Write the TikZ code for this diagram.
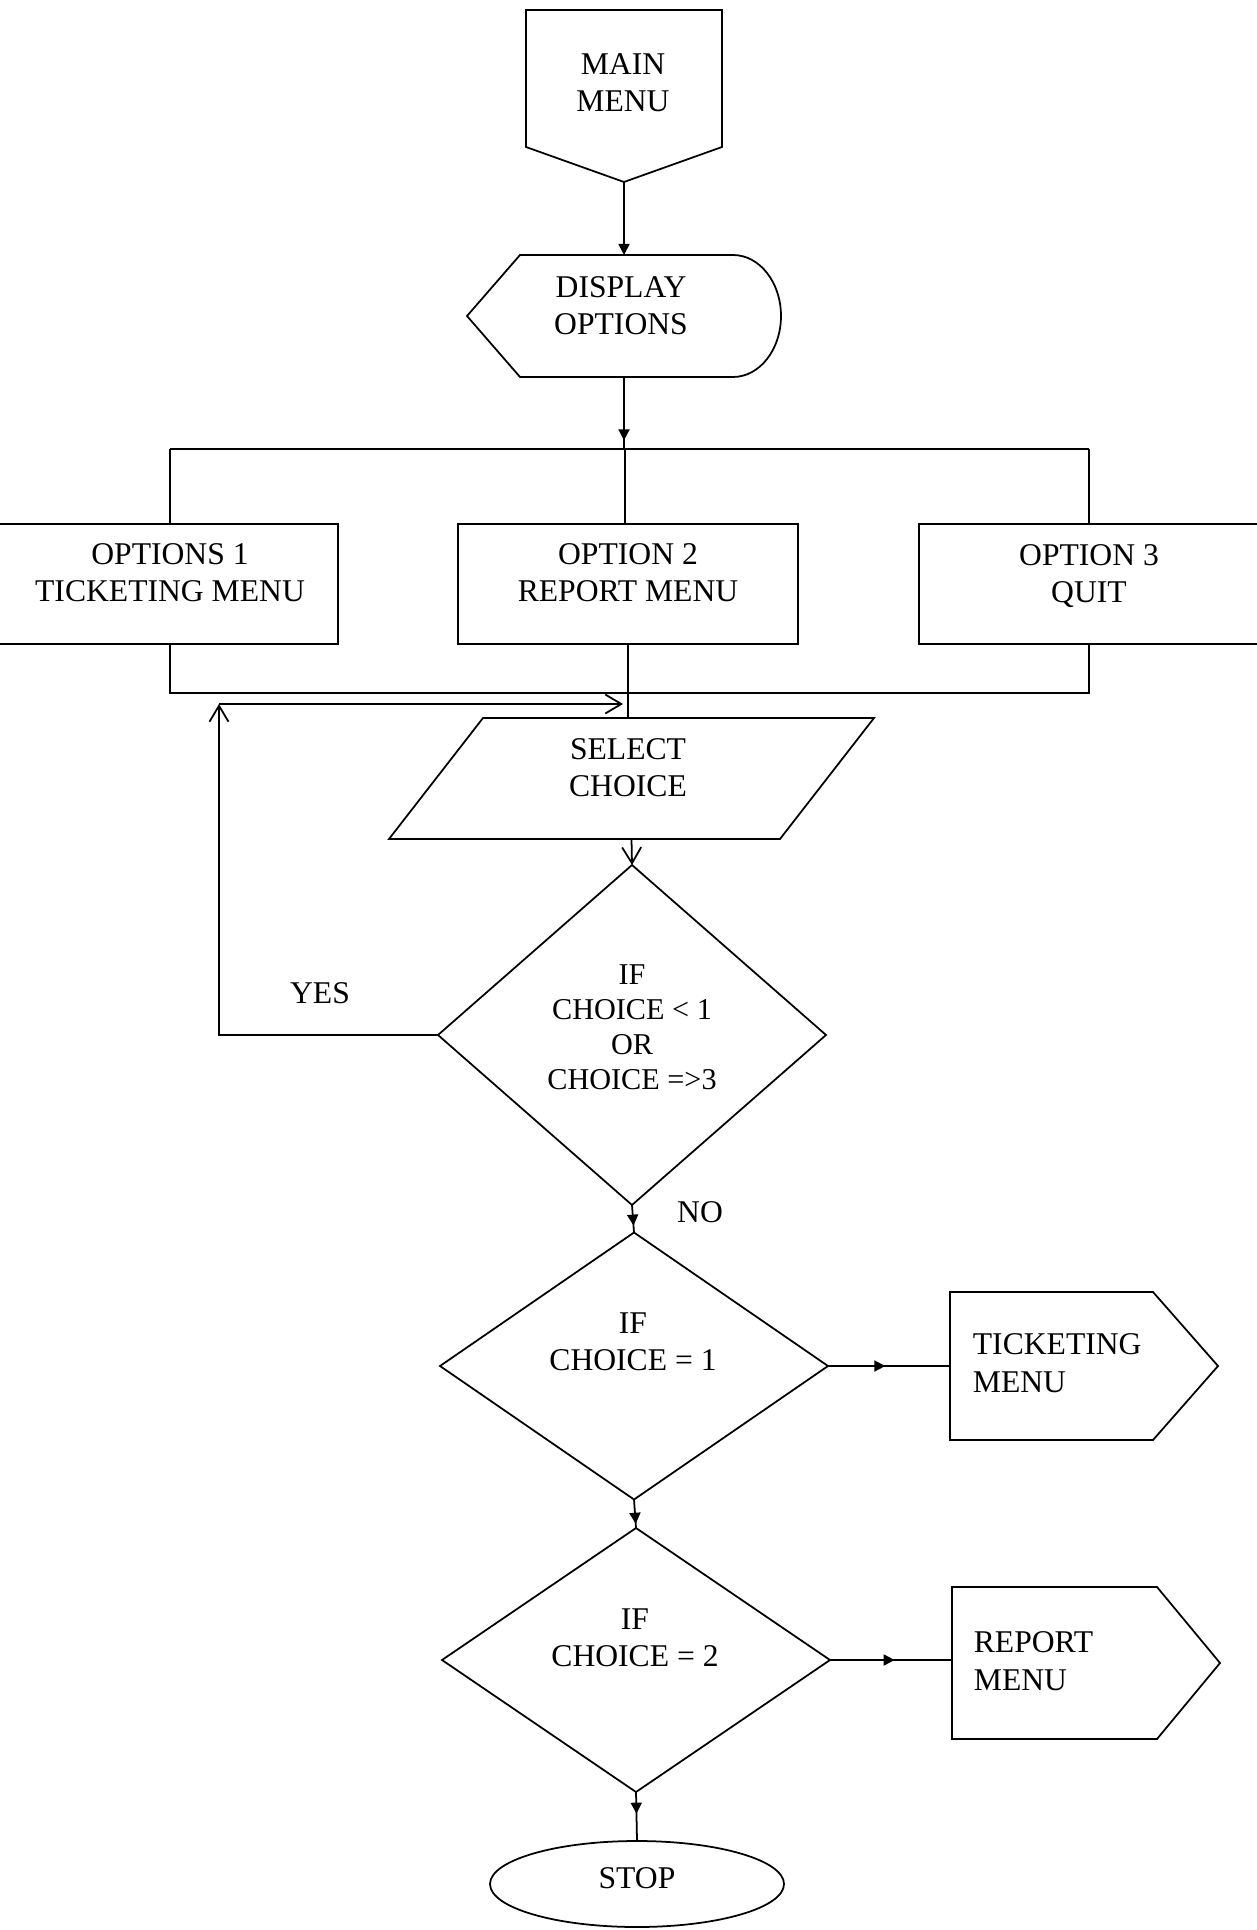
\documentclass[tikz,border=0pt]{standalone}
\usepackage{fontspec}
\setmainfont{Liberation Serif}
\usetikzlibrary{arrows.meta,decorations.markings,shapes.geometric}
\begin{document}
\begin{tikzpicture}[x=0.1mm,y=-0.1mm,line width=0.5pt,
  txt/.style={font=\fontsize{9}{10.5}\selectfont,align=center,inner sep=0pt},
  ltxt/.style={font=\fontsize{9}{10.8}\selectfont,align=left,inner sep=0pt,anchor=west},
  dtxt/.style={font=\fontsize{8.6}{10}\selectfont,align=center,inner sep=0pt},
  blank/.style={draw=none,inner sep=0pt,outer sep=0pt,rectangle},
  optbox/.style={draw,inner sep=0pt,outer sep=0pt,minimum width=34mm,minimum height=12mm},
  decision/.style={draw,diamond,inner sep=0pt,outer sep=0pt,minimum width=38.8mm},
  filltip/.style={-{Triangle[length=1.1mm,width=1.1mm]}},
  opentip/.style={-{Straight Barb[length=1.6mm,width=1.9mm]}},
  midarr/.style={postaction={decorate},decoration={markings,
     mark=at position #1 with {\arrow{Triangle[length=1.1mm,width=1.1mm]}}}}
]
\useasboundingbox (0,0) rectangle (1256,1930);

% MAIN MENU (off-page connector)
\node[blank,minimum width=19.6mm,minimum height=17.2mm] (mm) at (624,96) {};
\draw (mm.north west) -- (mm.north east) -- ([yshift=-13.7mm]mm.north east)
      -- (mm.south) -- ([yshift=-13.7mm]mm.north west) -- cycle;
\node[txt] (mmt) at (623,83) {MAIN\\MENU};

% DISPLAY OPTIONS
\node[blank,minimum width=31.4mm,minimum height=12.2mm] (dp) at (624,316) {};
\draw ([xshift=5.3mm]dp.north west) -- ([xshift=-4.8mm]dp.north east)
      arc[start angle=90,end angle=-90,x radius=4.8mm,y radius=6.1mm]
      -- ([xshift=5.3mm]dp.south west) -- (dp.west) -- cycle;
\node[txt] (dpt) at (621,306) {DISPLAY\\OPTIONS};

\draw[filltip] (mm.south) -- (dp.north);

% option boxes
\coordinate (b1) at (170,449);
\coordinate (b2) at (625,449);
\coordinate (b3) at (1089,449);
\node[optbox] (o1) at (168,584) {};
\node[optbox] (o2) at (628,584) {};
\node[optbox] (o3) at (1089,584) {};
\node[txt] (o1t) at (170,573) {OPTIONS 1\\TICKETING MENU};
\node[txt] (o2t) at (628,573) {OPTION 2\\REPORT MENU};
\node[txt] (o3t) at (1089,576) {OPTION 3\\QUIT};

\draw[midarr=0.88] (dp.south) -- (dp.south |- b2);
\draw (b1) -- (b3);
\draw (b1) -- (b1 |- o1.north);
\draw (b2) -- (b2 |- o2.north);
\draw (b3) -- (o3.north);

\coordinate (c1) at (170,693);
\coordinate (c3) at (1089,693);
\draw (c1 |- o1.south) -- (c1) -- (c3) -- (o3.south);

% SELECT CHOICE parallelogram
\node[blank,minimum width=48.5mm,minimum height=12.1mm] (sc) at (631.5,778.5) {};
\draw ([xshift=9.4mm]sc.north west) -- (sc.north east)
      -- ([xshift=-9.4mm]sc.south east) -- (sc.south west) -- cycle;
\node[txt] (sct) at (628,768) {SELECT\\CHOICE};
\draw (o2.south) -- (o2.south |- sc.north);

% decision 1
\node[decision,minimum height=34mm] (d1) at (632,1035) {};
\node[dtxt] (d1t) at (632,1027) {IF\\CHOICE < 1\\OR\\CHOICE =>3};
\draw[opentip] (sc.south) -- (d1.north);

% loop back
\coordinate (lc) at (219,704);
\coordinate (le) at (623,704);
\draw[opentip] (d1.west) -| (lc);
\draw[opentip] (lc) -- (le);
\node[txt] (yes) at (320,993) {YES};
\node[txt] (no) at (700,1212) {NO};

% decision 2
\node[decision,minimum height=26.7mm] (d2) at (634,1366) {};
\node[txt] (d2t) at (633,1342) {IF\\CHOICE = 1};
\draw[midarr=0.75] (d1.south) -- (d2.north);

% ticketing menu
\node[blank,minimum width=26.8mm,minimum height=14.8mm] (tm) at (1084,1366) {};
\draw (tm.north west) -- ([xshift=-6.5mm]tm.north east) -- (tm.east)
      -- ([xshift=-6.5mm]tm.south east) -- (tm.south west) -- cycle;
\node[ltxt] (tmt) at (972,1363) {TICKETING\\MENU};
\draw[midarr=0.47] (d2.east) -- (tm.west);

% decision 3
\node[decision,minimum height=26.4mm] (d3) at (636,1660) {};
\node[txt] (d3t) at (635,1638) {IF\\CHOICE = 2};
\draw[midarr=0.85] (d2.south) -- (d3.north);

% report menu
\node[blank,minimum width=26.8mm,minimum height=15.2mm] (rm) at (1086,1663) {};
\draw (rm.north west) -- ([xshift=-6.3mm]rm.north east) -- (rm.east)
      -- ([xshift=-6.3mm]rm.south east) -- (rm.south west) -- cycle;
\node[ltxt] (rmt) at (973,1661) {REPORT\\MENU};
\draw[midarr=0.53] (d3.east) -- (d3.east -| rm.west);

% stop
\node[draw,ellipse,inner sep=0pt,minimum width=29.4mm,minimum height=8.6mm] (st) at (637,1884) {};
\node[txt] (stt) at (637,1878) {STOP};
\draw[midarr=0.45] (d3.south) -- (st.north);
\end{tikzpicture}
\end{document}
